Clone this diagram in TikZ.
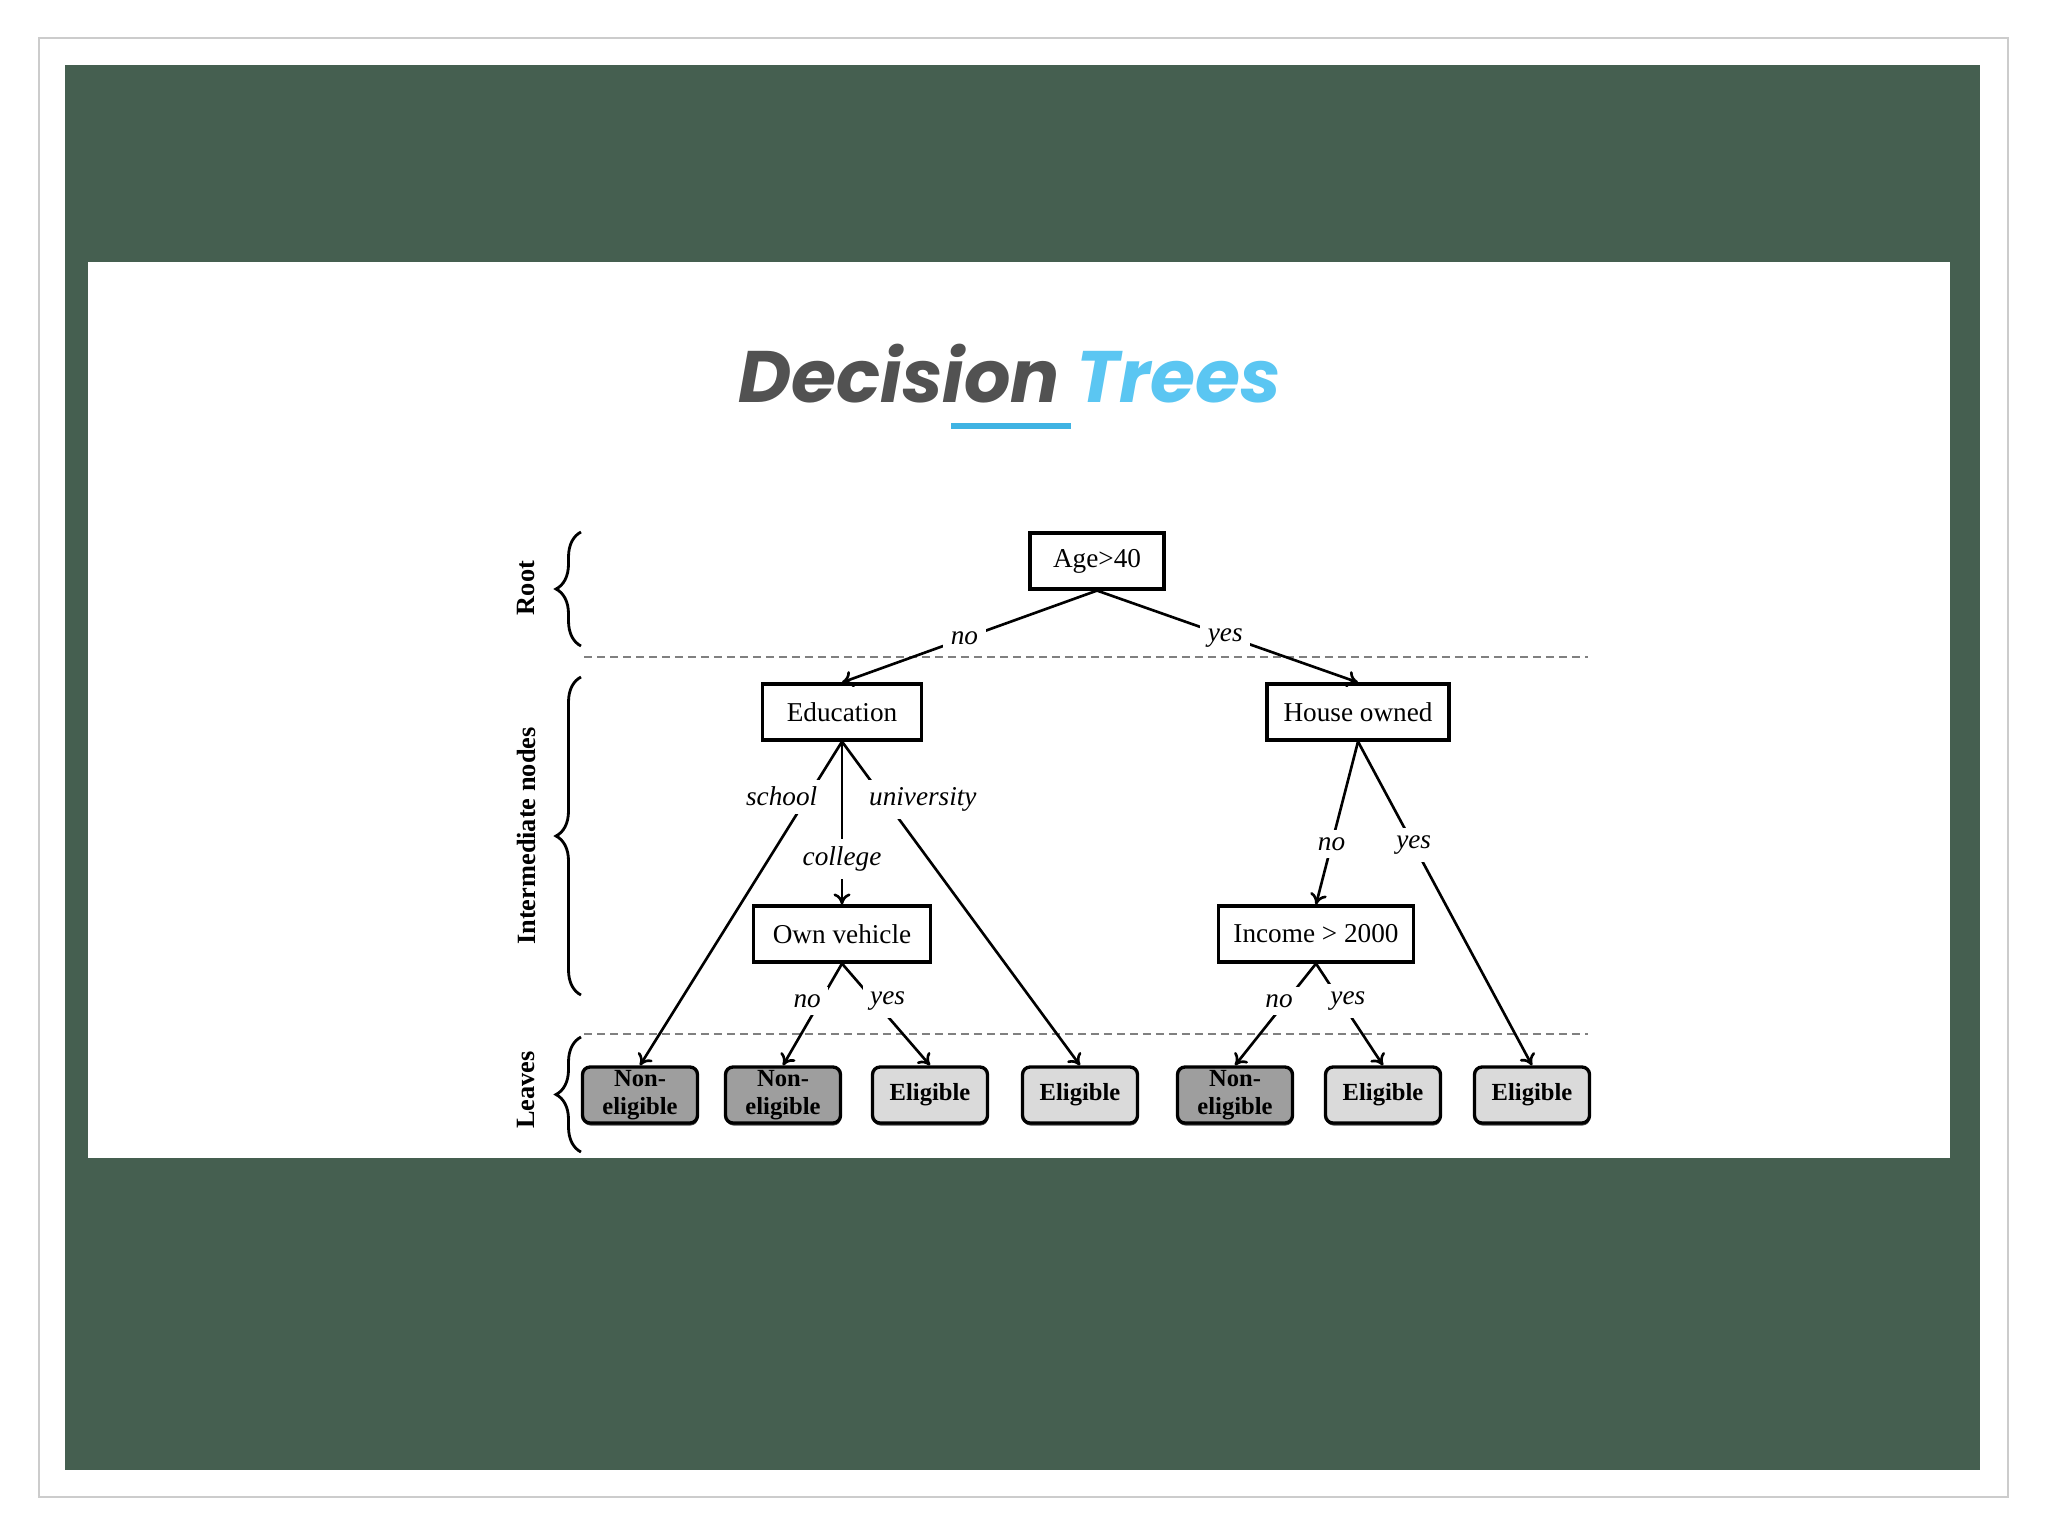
\documentclass[tikz,border=0pt]{standalone}
\usepackage{fontspec}
\setmainfont{Liberation Serif}
\newfontfamily\titlefont{Poppins}
\usetikzlibrary{decorations.pathreplacing,shadows,arrows.meta}

\definecolor{slidegreen}{HTML}{455F50}
\definecolor{titlegray}{HTML}{525252}
\definecolor{titleblue}{HTML}{5BC6F2}
\definecolor{lineblue}{HTML}{3FB3E3}
\definecolor{noncol}{HTML}{9E9E9E}
\definecolor{elicol}{HTML}{DADADA}

\begin{document}
\begin{tikzpicture}[x=0.02cm,y=-0.02cm]
\tikzstyle{decision}=[draw,line width=1.8pt,fill=white,minimum height=1.12cm,inner sep=2pt,font=\fontsize{15.5}{18}\selectfont,drop shadow={shadow xshift=0.01cm,shadow yshift=-0.04cm,opacity=0.6,fill=black}]
\tikzstyle{leaf}=[draw,line width=1.9pt,rounded corners=0.15cm,minimum width=2.3cm,minimum height=1.12cm,inner sep=1pt,align=center,font=\fontsize{14}{16}\selectfont\bfseries,drop shadow={shadow xshift=0.01cm,shadow yshift=-0.05cm,opacity=0.7,fill=black}]
\tikzstyle{nonleaf}=[leaf,fill=noncol]
\tikzstyle{yesleaf}=[leaf,fill=elicol]
\tikzstyle{arr}=[draw,-{To[length=0.22cm,width=0.34cm]},line width=1.5pt]
\tikzstyle{lbl}=[fill=white,inner sep=0.15cm,font=\fontsize{15.5}{18}\selectfont\itshape]
\tikzstyle{tier}=[rotate=90,font=\fontsize{15}{18}\selectfont\bfseries]
\tikzstyle{bracket}=[draw,line width=1.6pt,decorate,decoration={brace,amplitude=0.5cm}]
\tikzstyle{divider}=[draw,gray,line width=0.9pt,dash pattern=on 0.16cm off 0.1cm]

\useasboundingbox (0,0) rectangle (2048,1536);
\fill[white] (0,0) rectangle (2048,1536);
\draw[black!20,line width=1pt] (39,38) rectangle (2008,1497);
\fill[slidegreen] (65,65) rectangle (1980,1470);
\fill[white] (88,262) rectangle (1950,1158);

% title
\node[anchor=base,inner sep=0pt,font=\titlefont\fontsize{41.5}{46}\selectfont\bfseries\itshape] (title) at (1010,402) {\textcolor{titlegray}{Decision} \textcolor{titleblue}{Trees}};
\draw[lineblue,line width=0.13cm] (951,426) -- (1071,426);

% levels
\draw[bracket] (581,646) -- (581,532);
\draw[bracket] (581,995) -- (581,677);
\draw[bracket] (581,1152) -- (581,1037);
\node[tier] (root) at (526,588) {Root};
\node[tier] (mid) at (526,836) {Intermediate nodes};
\node[tier] (leaves) at (526,1090) {Leaves};
\draw[divider] (584,657) -- (1588,657);
\draw[divider] (584,1034) -- (1588,1034);

% tree
\node[decision,minimum width=2.68cm] (age) at (1097,561) {Age>40};
\node[decision,minimum width=3.18cm] (edu) at (842,712) {Education};
\node[decision,minimum width=3.64cm] (house) at (1358,712) {House owned};
\node[decision,minimum width=3.54cm] (veh) at (842,934) {Own vehicle};
\node[decision,minimum width=3.9cm] (inc) at (1316,934) {Income > 2000};

\node[nonleaf] (l1) at (640,1095) {Non-\\eligible};
\node[nonleaf] (l2) at (783,1095) {Non-\\eligible};
\node[yesleaf] (l3) at (930,1095) {Eligible};
\node[yesleaf] (l4) at (1080,1095) {Eligible};
\node[nonleaf] (l5) at (1235,1095) {Non-\\eligible};
\node[yesleaf] (l6) at (1383,1095) {Eligible};
\node[yesleaf] (l7) at (1532,1095) {Eligible};

\path (age.south) edge[arr] node[lbl,pos=.52] {no} (edu.north);
\path (age.south) edge[arr] node[lbl,pos=.52,xshift=-0.15cm] {yes} (house.north);
\path (edu.south) edge[arr] node[lbl,pos=.17,xshift=-0.52cm] {school} (l1.north);
\path (edu.south) edge[arr] node[lbl,pos=.72] {college} (veh.north);
\path (edu.south) edge[arr] node[lbl,pos=.18,xshift=0.76cm] {university} (l4.north);
\path (veh.south) edge[arr] node[lbl,pos=.37,xshift=-0.26cm] {no} (l2.north);
\path (veh.south) edge[arr] node[lbl,pos=.37,xshift=0.26cm] {yes} (l3.north);
\path (house.south) edge[arr] node[lbl,pos=.63] {no} (inc.north);
\path (house.south) edge[arr] node[lbl,pos=.32] {yes} (l7.north);
\path (inc.south) edge[arr] node[lbl,pos=.37,xshift=-0.14cm] {no} (l5.north);
\path (inc.south) edge[arr] node[lbl,pos=.37,xshift=0.14cm] {yes} (l6.north);
\end{tikzpicture}
\end{document}
